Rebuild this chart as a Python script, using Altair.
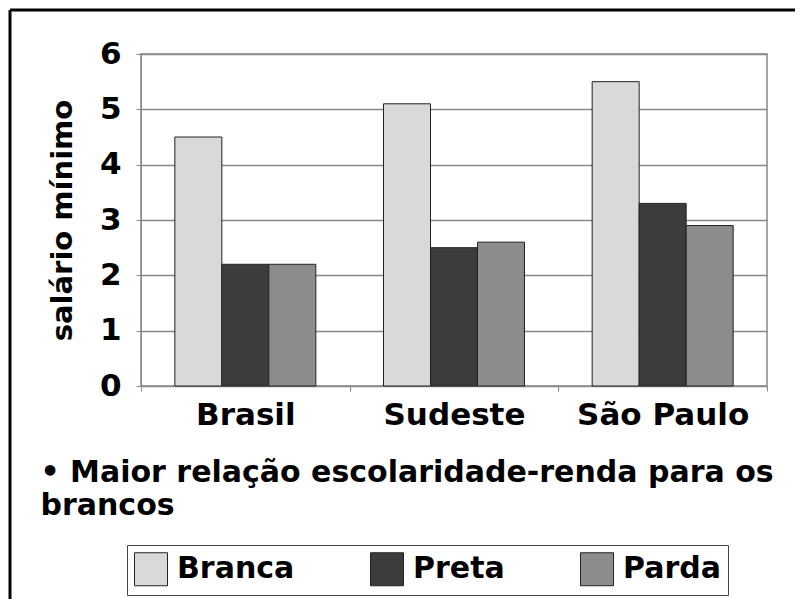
import altair as alt
import pandas as pd

regioes = ["Brasil", "Sudeste", "São Paulo"]
racas = ["Branca", "Preta", "Parda"]
branca = [4.5, 5.1, 5.5]
preta = [2.2, 2.5, 3.3]
parda = [2.2, 2.6, 2.9]
y_ticks = [0, 1, 2, 3, 4, 5, 6]
nota = ["• Maior relação escolaridade-renda para os", "brancos"]
cores = ["#d9d9d9", "#3c3c3c", "#8c8c8c"]

rows = []
for i, r in enumerate(regioes):
    for raca, vals in zip(racas, [branca, preta, parda]):
        rows.append({"regiao": r, "raca": raca, "valor": vals[i]})
df = pd.DataFrame(rows)

FONT = "DejaVu Sans"

bars = alt.Chart(df).mark_bar(stroke="#222222", strokeWidth=1).encode(
    x=alt.X(
        "regiao:N",
        sort=regioes,
        scale=alt.Scale(paddingInner=0, paddingOuter=0),
        axis=alt.Axis(
            title=nota,
            titleFont=FONT,
            titleFontSize=30,
            titleFontWeight="bold",
            titleColor="black",
            titleAnchor="start",
            titleAlign="left",
            titleBaseline="alphabetic",
            titleX=-101,
            titleY=95,
            titleLineHeight=33,
            labelFont=FONT,
            labelFontSize=31,
            labelFontWeight="bold",
            labelColor="black",
            labelAngle=0,
            labelPadding=9,
            tickBand="extent",
            tickSize=5,
            tickColor="#888888",
            domainColor="#888888",
            grid=False,
        ),
    ),
    xOffset=alt.XOffset(
        "raca:N", sort=racas, scale=alt.Scale(paddingInner=0, paddingOuter=0.72)
    ),
    y=alt.Y(
        "valor:Q",
        scale=alt.Scale(domain=[0, 6], nice=False),
        axis=alt.Axis(
            values=y_ticks,
            title="salário mínimo",
            titleFont=FONT,
            titleFontSize=29,
            titleFontWeight="bold",
            titleColor="black",
            titlePadding=22,
            labelFont=FONT,
            labelFontSize=31,
            labelFontWeight="bold",
            labelColor="black",
            labelPadding=15,
            tickSize=5,
            tickColor="#888888",
            domainColor="#888888",
            gridColor="#888888",
            gridWidth=1.5,
        ),
    ),
    color=alt.Color(
        "raca:N",
        sort=racas,
        scale=alt.Scale(domain=racas, range=cores),
        legend=alt.Legend(
            title=None,
            orient="none",
            legendX=-14,
            legendY=491,
            direction="horizontal",
            symbolType="square",
            symbolSize=1089,
            symbolStrokeColor="#222222",
            symbolStrokeWidth=1,
            symbolOpacity=1,
            labelFont=FONT,
            labelFontSize=30,
            labelFontWeight="bold",
            labelColor="black",
            labelOffset=9,
            columnPadding=73,
            padding=7,
            strokeColor="#444444",
            fillColor="white",
        ),
    ),
)

frame_data = alt.Data(values=[{"k": 1}])
left_line = alt.Chart(frame_data).mark_rule(color="black", strokeWidth=3).encode(
    x=alt.value(-131), y=alt.value(-44), y2=alt.value(545)
)
top_line = alt.Chart(frame_data).mark_rule(color="black", strokeWidth=3).encode(
    x=alt.value(-131), x2=alt.value(654), y=alt.value(-44)
)

chart = (
    alt.layer(bars, left_line, top_line)
    .properties(width=626, height=332, padding=0, background="white")
    .configure_view(stroke="#888888", strokeWidth=1.5)
)

chart.save("out.html", embed_options={"renderer": "svg", "actions": False})
